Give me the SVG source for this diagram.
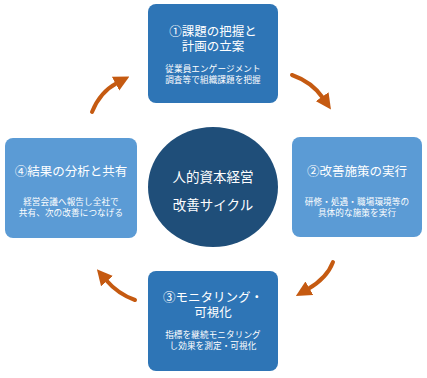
<svg xmlns="http://www.w3.org/2000/svg" width="427" height="378" viewBox="0 0 427 378">
<style>
text{font-family:"Noto Sans CJK JP","Noto Sans",sans-serif;fill:#fff;text-anchor:middle}
.t{font-size:12.5px}
.s{font-size:8.6px;letter-spacing:0.1px}
.c{font-size:13.5px}
.dark{fill:#2E75B6}
.light{fill:#5B9BD5}
.arr{fill:none;stroke:#C55A11;stroke-width:4;stroke-linecap:round}
</style>
<defs>
<marker id="ah" viewBox="0 0 10 10" refX="1" refY="5" markerWidth="3.9" markerHeight="4" orient="auto" markerUnits="strokeWidth">
<path d="M0,0 L10,5 L0,10 z" fill="#C55A11"/>
</marker>
</defs>
<rect width="427" height="378" fill="#fff"/>
<g id="connectors">
<path class="arr" d="M92,112 Q100,92 117,83" marker-end="url(#ah)"/>
<path class="arr" d="M292,75 Q312,82 323,98" marker-end="url(#ah)"/>
<path class="arr" d="M333,262 Q327,278 308,289" marker-end="url(#ah)"/>
<path class="arr" d="M135,300 Q118,294 106,280" marker-end="url(#ah)"/>
</g>
<g id="node1">
<rect class="dark" x="148" y="4" width="130" height="99" rx="8"/>
<text class="t" x="213" y="35.5">①課題の把握と</text>
<text class="t" x="213" y="50.5">計画の立案</text>
<text class="s" x="213" y="71.5">従業員エンゲージメント</text>
<text class="s" x="213" y="83">調査等で組織課題を把握</text>
</g>
<g id="node2">
<rect class="light" x="292" y="137" width="130" height="100" rx="8"/>
<text class="t" x="357" y="176">②改善施策の実行</text>
<text class="s" x="357" y="204.5">研修・処遇・職場環境等の</text>
<text class="s" x="357" y="216">具体的な施策を実行</text>
</g>
<g id="node3">
<rect class="dark" x="148" y="271" width="130" height="100" rx="8"/>
<text class="t" x="213" y="301.5">③モニタリング・</text>
<text class="t" x="213" y="316.5">可視化</text>
<text class="s" x="213" y="337.5">指標を継続モニタリング</text>
<text class="s" x="213" y="349">し効果を測定・可視化</text>
</g>
<g id="node4">
<rect class="light" x="5" y="138" width="132" height="100" rx="8"/>
<text class="t" x="71" y="176">④結果の分析と共有</text>
<text class="s" x="71" y="204.5">経営会議へ報告し全社で</text>
<text class="s" x="71" y="216">共有、次の改善につなげる</text>
</g>
<g id="center">
<ellipse cx="213" cy="187" rx="65" ry="60" fill="#1F4E79"/>
<text class="c" x="213" y="182">人的資本経営</text>
<text class="c" x="213" y="210">改善サイクル</text>
</g>
</svg>
